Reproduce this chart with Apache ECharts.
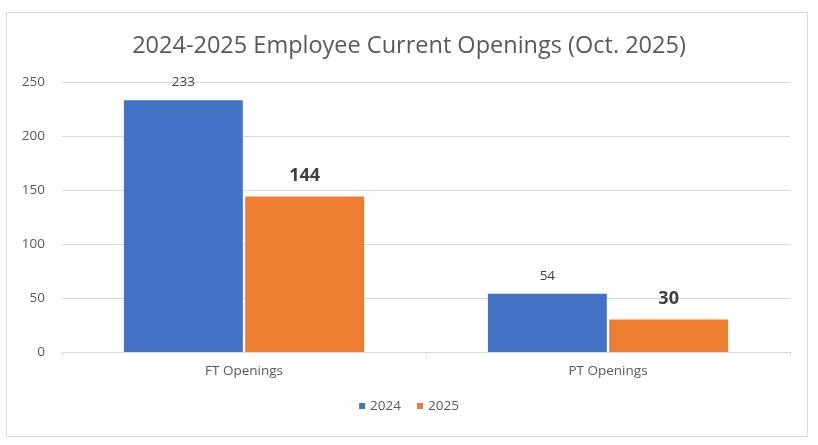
<!DOCTYPE html>
<html>
<head>
<meta charset="utf-8">
<script src="https://cdn.jsdelivr.net/npm/echarts@6/dist/echarts.min.js"></script>
<style>
html,body{margin:0;padding:0;background:#fff;}
#c{width:818px;height:445px;}
</style>
</head>
<body>
<div id="c"></div>
<script>
const categories = ['FT Openings', 'PT Openings'];
const seriesNames = ['2024', '2025'];
const values2024 = [233, 54];
const values2025 = [144, 30];
const yTicks = [0, 50, 100, 150, 200, 250];

const FONT = '"Open Sans", "Liberation Sans", sans-serif';
const chart = echarts.init(document.getElementById('c'), null, {renderer: 'canvas'});
chart.setOption({
  animation: false,
  backgroundColor: '#fff',
  textStyle: {fontFamily: FONT},
  graphic: [{
    type: 'rect',
    shape: {x: 6.5, y: 12.5, width: 801, height: 424},
    style: {fill: 'none', stroke: '#d9d9d9', lineWidth: 1},
    silent: true, z: -1
  }],
  title: {
    text: '2024-2025 Employee Current Openings (Oct. 2025)',
    left: 'center',
    top: 29,
    textStyle: {fontFamily: FONT, fontSize: 23.5, fontWeight: 'normal', color: '#595959'}
  },
  legend: {
    data: seriesNames,
    bottom: 27,
    left: 'center',
    icon: 'rect',
    itemWidth: 6,
    itemHeight: 6,
    itemGap: 16,
    textStyle: {fontFamily: FONT, fontSize: 13.5, color: '#595959'}
  },
  grid: {left: 62, right: 28, top: 82, bottom: 93, containLabel: false},
  xAxis: {
    type: 'category',
    data: categories,
    axisLine: {lineStyle: {color: '#d9d9d9'}},
    axisTick: {show: true, length: 4, lineStyle: {color: '#d9d9d9'}},
    axisLabel: {fontFamily: FONT, fontSize: 13.5, color: '#595959', margin: 12}
  },
  yAxis: {
    type: 'value',
    min: yTicks[0],
    max: yTicks[yTicks.length - 1],
    interval: 50,
    axisLine: {show: false},
    axisTick: {show: false},
    splitLine: {lineStyle: {color: '#d9d9d9'}},
    axisLabel: {fontFamily: FONT, fontSize: 13.5, color: '#595959', margin: 17}
  },
  series: [
    {
      name: seriesNames[0], type: 'bar', data: values2024,
      barGap: '2%', barCategoryGap: '34%',
      itemStyle: {color: '#4472c4'},
      label: {show: true, position: 'top', distance: 11, fontFamily: FONT, fontSize: 13.5, color: '#404040'}
    },
    {
      name: seriesNames[1], type: 'bar', data: values2025,
      barGap: '2%', barCategoryGap: '34%',
      itemStyle: {color: '#ed7d31'},
      label: {show: true, position: 'top', distance: 12, fontFamily: FONT, fontSize: 18, fontWeight: 'bold', color: '#404040'}
    }
  ]
});
</script>
</body>
</html>
